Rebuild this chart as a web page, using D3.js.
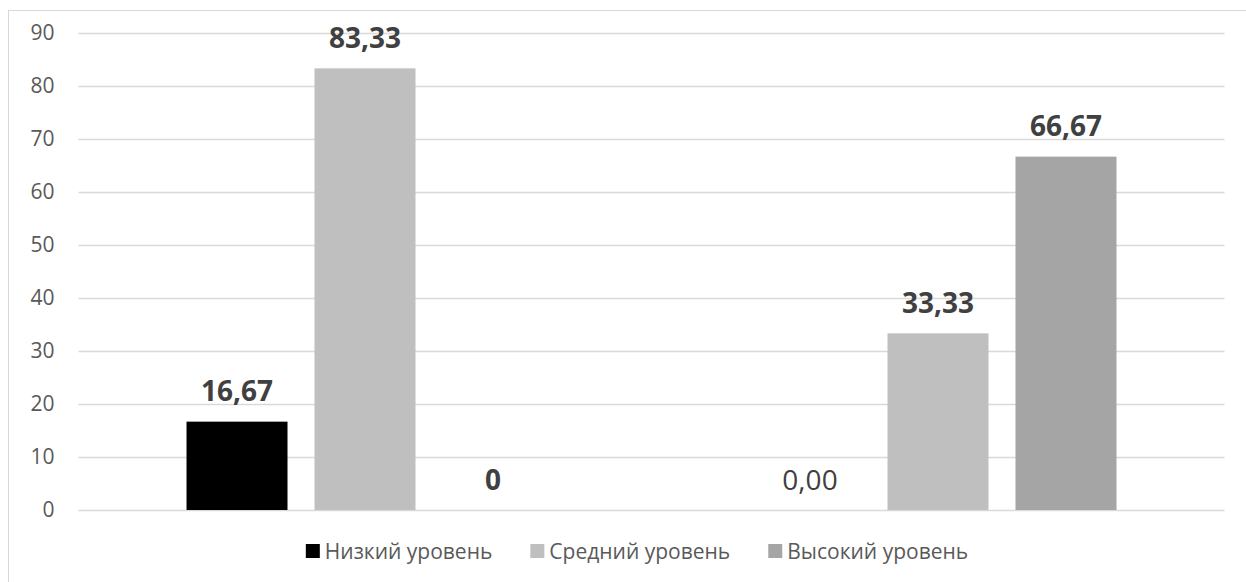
<!DOCTYPE html>
<html>
<head>
<meta charset="utf-8">
<script src="https://cdn.jsdelivr.net/npm/d3@7"></script>
<style>
  html, body { margin: 0; padding: 0; background: #ffffff; }
  svg { display: block; }
  text { font-family: "Open Sans", "Noto Sans", sans-serif; }
</style>
</head>
<body>
<div id="chart"></div>
<script>
// Two groups of respondents, three levels each
const groups = ["Группа 1", "Группа 2"];
const seriesNames = ["Низкий уровень", "Средний уровень", "Высокий уровень"];
const seriesColors = ["#000000", "#bfbfbf", "#a5a5a5"];

const lowValues = [16.67, 0];
const midValues = [83.33, 33.33];
const highValues = [0, 66.67];

// Number of decimals shown in each data label
const lowDecimals = [2, 2];
const midDecimals = [2, 2];
const highDecimals = [0, 2];
// Whether each data label is bold
const lowBold = [true, false];
const midBold = [true, true];
const highBold = [true, true];

const yTicks = [0, 10, 20, 30, 40, 50, 60, 70, 80, 90];

const seriesValues = [lowValues, midValues, highValues];
const seriesDecimals = [lowDecimals, midDecimals, highDecimals];
const seriesBold = [lowBold, midBold, highBold];

const W = 1246, H = 582;
const plot = { left: 78.5, right: 1224.5, top: 33, bottom: 510 };

const svg = d3.select("#chart").append("svg")
  .attr("width", W).attr("height", H);

// Chart area frame
svg.append("rect")
  .attr("x", 8.5).attr("y", 10.5)
  .attr("width", 1300).attr("height", 700)
  .attr("fill", "#ffffff")
  .attr("stroke", "#d9d9d9").attr("stroke-width", 1);

const y = d3.scaleLinear().domain([0, 90]).range([plot.bottom, plot.top]);

const x0 = d3.scaleBand().domain(groups)
  .range([plot.left, plot.right]).padding(0);

const x1 = d3.scaleBand().domain(d3.range(seriesNames.length))
  .range([0, x0.bandwidth()])
  .paddingInner(0.211).paddingOuter(0.844);

// Horizontal gridlines
const yAxis = d3.axisLeft(y).tickValues(yTicks)
  .tickSize(-(plot.right - plot.left)).tickPadding(24)
  .tickFormat(d3.format("d"));

const gAxis = svg.append("g")
  .attr("transform", `translate(${plot.left},0)`)
  .call(yAxis);
gAxis.select(".domain").remove();
gAxis.selectAll(".tick line")
  .attr("stroke", "#d9d9d9").attr("stroke-width", 1.3);
gAxis.selectAll(".tick text")
  .attr("fill", "#595959")
  .attr("font-size", 21)
  .attr("font-family", "'Open Sans', sans-serif");

// Flatten the series into bar records
const bars = [];
seriesValues.forEach((vals, s) => {
  vals.forEach((v, g) => {
    bars.push({
      series: s, group: groups[g], value: v,
      decimals: seriesDecimals[s][g], bold: seriesBold[s][g]
    });
  });
});

const gBars = svg.append("g");
gBars.selectAll("rect").data(bars).join("rect")
  .attr("x", d => x0(d.group) + x1(d.series))
  .attr("y", d => y(d.value))
  .attr("width", x1.bandwidth())
  .attr("height", d => y(0) - y(d.value))
  .attr("fill", d => seriesColors[d.series]);

// Data labels above each bar
const fmtLabel = d => d.value.toFixed(d.decimals).replace(".", ",");
gBars.selectAll("text").data(bars).join("text")
  .attr("x", d => x0(d.group) + x1(d.series) + x1.bandwidth() / 2)
  .attr("y", d => y(d.value) - 20.5)
  .attr("text-anchor", "middle")
  .attr("font-size", 28)
  .attr("font-weight", d => d.bold ? 700 : 400)
  .attr("fill", "#404040")
  .text(fmtLabel);

// Legend, centred under the plot
const legend = svg.append("g").attr("transform", "translate(0,551)");
const items = legend.selectAll("g").data(seriesNames).join("g");
items.append("rect")
  .attr("width", 14).attr("height", 14)
  .attr("y", -7)
  .attr("fill", (d, i) => seriesColors[i]);
items.append("text")
  .attr("x", 19).attr("y", 7.5)
  .attr("font-size", 21)
  .attr("fill", "#595959")
  .text(d => d);

const widths = [];
items.each(function () {
  widths.push(this.querySelector("text").getComputedTextLength() + 19);
});
const gap = 38;
const total = d3.sum(widths) + gap * (widths.length - 1);
let cx = 637 - total / 2;
items.attr("transform", (d, i) => {
  const t = `translate(${cx},0)`;
  cx += widths[i] + gap;
  return t;
});
</script>
</body>
</html>
